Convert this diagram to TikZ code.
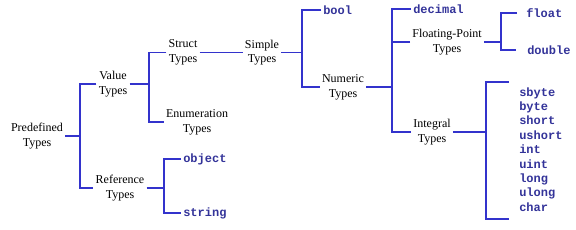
\documentclass[tikz,border=0pt]{standalone}
\usepackage{fontspec}
\setmainfont{Liberation Serif}
\newfontfamily\kwfont{Liberation Mono}
\definecolor{linkblue}{RGB}{51,51,204}
\definecolor{kwblue}{RGB}{51,51,153}

\begin{document}
\begin{tikzpicture}[x=0.75pt, y=-0.75pt,
  cat/.style={align=center, font=\fontsize{9}{11}\selectfont, inner sep=1.5pt},
  kw/.style={anchor=west, font=\kwfont\bfseries\fontsize{9}{10.8}\selectfont,
    text=kwblue, inner sep=1.5pt},
  branch/.style={draw=linkblue, line width=0.8pt}]

  \useasboundingbox (0,0) rectangle (576,229);

  % Categories
  \node[cat] (pre) at (37,136) {Predefined\\Types};
  \node[cat] (val) at (113,84) {Value\\Types};
  \node[cat] (ref) at (120,188) {Reference\\Types};
  \node[cat] (str) at (183,52.5) {Struct\\Types};
  \node[cat] (enu) at (197,122) {Enumeration\\Types};
  \node[cat] (sim) at (262,52.5) {Simple\\Types};
  \node[cat] (num) at (343,87) {Numeric\\Types};
  \node[cat] (flt) at (447,42) {Floating-Point\\Types};
  \node[cat] (itg) at (432,132) {Integral\\Types};

  % Keywords
  \node[kw] (bool) at (321,10) {bool};
  \node[kw] (dec) at (411,9) {decimal};
  \node[kw] (float) at (524,13) {float};
  \node[kw] (double) at (525,50) {double};
  \node[kw] (object) at (181,159) {object};
  \node[kw] (string) at (181,213) {string};
  \node[kw, align=left] (ints) at (517,149.5)
    {sbyte\\byte\\short\\ushort\\int\\uint\\long\\ulong\\char};

  % Junctions
  \coordinate (j1) at (80,137);
  \coordinate (j2) at (149,89);
  \coordinate (j3) at (164,189);
  \coordinate (j4) at (302,52);
  \coordinate (j5) at (392,88);
  \coordinate (j6) at (501,33);
  \coordinate (j7) at (486,134);
  \coordinate (itop) at (509,82);
  \coordinate (ibot) at (509,219);

  % Branches
  \draw[branch] (pre.east) -- (pre.east -| j1);
  \draw[branch] (val.west) -| (j1) |- (ref.west);
  \draw[branch] (val.east) -- (val.east -| j2);
  \draw[branch] (str.west) -| (j2) |- (enu.west);
  \draw[branch] (str.east) -- (sim.west);
  \draw[branch] (ref.east) -- (ref.east -| j3);
  \draw[branch] (object.west) -| (j3) |- (string.west);
  \draw[branch] (sim.east) -- (sim.east -| j4);
  \draw[branch] (bool.west) -| (j4) |- (num.west);
  \draw[branch] (num.east) -- (num.east -| j5);
  \draw[branch] (dec.west) -| (j5) |- (itg.west);
  \draw[branch] (flt.west) -- (flt.west -| j5);
  \draw[branch] (flt.east) -- (flt.east -| j6);
  \draw[branch] (float.west) ++(-7,0) -| (j6) |- ([xshift=-7]double.west);
  \draw[branch] (itg.east) -- (itg.east -| j7);
  \draw[branch] (itop) -| (j7) |- (ibot);

\end{tikzpicture}
\end{document}
